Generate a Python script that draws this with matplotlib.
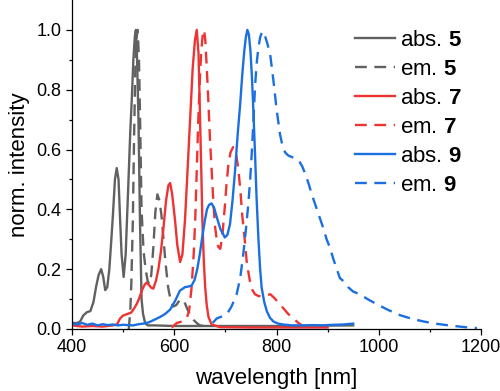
import matplotlib
matplotlib.use("Agg")
import matplotlib.pyplot as plt

plt.rcParams['font.family'] = ['Liberation Sans', 'DejaVu Sans']
plt.rcParams['mathtext.fontset'] = 'custom'
plt.rcParams['mathtext.rm'] = 'Liberation Sans'
plt.rcParams['mathtext.bf'] = 'Liberation Sans:bold'

# ---- data ----
abs5_x = [400, 410, 416, 422, 429, 436, 442, 447, 452, 457, 461, 465, 469, 473, 477, 480, 484, 487.5, 491, 494, 497, 501, 505, 510, 514, 517, 520, 523, 525, 527, 530, 533, 536, 539, 543, 548, 560, 600, 700, 800, 950]
abs5_y = [0.02, 0.02, 0.025, 0.045, 0.056, 0.06, 0.09, 0.14, 0.18, 0.2, 0.175, 0.13, 0.14, 0.2, 0.3, 0.38, 0.5, 0.538, 0.5, 0.37, 0.25, 0.174, 0.25, 0.475, 0.66, 0.77, 0.9, 0.98, 1.0, 0.92, 0.7, 0.36, 0.1, 0.05, 0.02, 0.012, 0.012, 0.01, 0.01, 0.01, 0.012]

em5_x = [511, 514, 516, 519, 521.5, 524, 526, 528.5, 531, 533, 536, 540, 544, 548, 551, 555, 559, 563, 567, 571, 575, 579, 583, 588, 593, 598, 604, 610, 615, 620, 626, 632, 638, 644, 650, 660]
em5_y = [0.0, 0.06, 0.15, 0.36, 0.65, 0.88, 0.97, 1.0, 0.9, 0.72, 0.4, 0.26, 0.2, 0.16, 0.15, 0.18, 0.27, 0.39, 0.45, 0.43, 0.38, 0.3, 0.22, 0.14, 0.095, 0.075, 0.08, 0.095, 0.1, 0.09, 0.065, 0.045, 0.03, 0.02, 0.012, 0.01]

abs7_x = [400, 420, 440, 460, 480, 488, 494, 500, 508, 516, 522, 527, 532, 537, 542, 546, 550, 555, 559, 564, 569, 574, 579, 584, 588.5, 592, 596, 601.5, 606, 611.5, 616, 621, 626, 631, 636, 640.5, 644, 647.5, 650.5, 653, 655, 658, 660.5, 663.5, 667, 673, 690, 750, 800, 850, 900]
abs7_y = [0.012, 0.008, 0.01, 0.008, 0.012, 0.015, 0.035, 0.045, 0.05, 0.055, 0.07, 0.085, 0.105, 0.13, 0.148, 0.155, 0.148, 0.138, 0.135, 0.16, 0.2, 0.26, 0.34, 0.43, 0.48, 0.488, 0.45, 0.364, 0.28, 0.224, 0.25, 0.364, 0.53, 0.70, 0.87, 0.966, 1.0, 0.92, 0.7, 0.52, 0.364, 0.22, 0.14, 0.08, 0.04, 0.015, 0.006, 0.005, 0.005, 0.005, 0.005]

em7_x = [595, 605, 615, 624, 629, 634, 638, 641, 644, 647, 650, 652.5, 655.5, 658.5, 661, 664, 667, 670, 673.5, 677, 680, 683, 686, 690, 694, 699, 702, 706, 710, 715, 720, 725, 729, 733, 738, 742, 748, 753, 758, 765, 772, 780, 788, 795, 803, 813, 823, 833, 843, 850]
em7_y = [0.005, 0.02, 0.025, 0.035, 0.06, 0.14, 0.25, 0.364, 0.53, 0.70, 0.83, 0.92, 0.98, 1.0, 0.96, 0.86, 0.75, 0.63, 0.52, 0.41, 0.34, 0.30, 0.275, 0.268, 0.31, 0.41, 0.48, 0.552, 0.59, 0.608, 0.595, 0.54, 0.47, 0.38, 0.296, 0.22, 0.16, 0.13, 0.116, 0.11, 0.11, 0.113, 0.116, 0.105, 0.09, 0.07, 0.05, 0.035, 0.02, 0.012]

abs9_x = [400, 410, 420, 430, 440, 450, 460, 470, 480, 490, 500, 510, 520, 530, 540, 550, 560, 572, 582, 592, 602, 611, 621, 628, 634, 640, 645, 650, 655, 660, 664, 668, 673, 678, 683, 690, 699, 704, 709, 714, 719, 724, 729, 733, 737, 740, 743, 746, 749, 752, 755, 758, 761, 764.5, 768, 771, 776, 781, 787, 794, 803, 813, 830, 850, 870, 890, 910, 930, 950]
abs9_y = [0.02, 0.015, 0.02, 0.014, 0.018, 0.012, 0.016, 0.013, 0.015, 0.012, 0.014, 0.013, 0.012, 0.016, 0.018, 0.022, 0.03, 0.04, 0.05, 0.065, 0.095, 0.128, 0.14, 0.142, 0.145, 0.165, 0.2, 0.25, 0.31, 0.364, 0.4, 0.415, 0.42, 0.405, 0.375, 0.335, 0.306, 0.315, 0.35, 0.43, 0.53, 0.65, 0.753, 0.85, 0.93, 0.975, 1.0, 0.985, 0.93, 0.84, 0.72, 0.585, 0.44, 0.306, 0.2, 0.138, 0.09, 0.06, 0.038, 0.025, 0.018, 0.015, 0.012, 0.012, 0.013, 0.012, 0.014, 0.015, 0.018]

em9_x = [675, 683, 693, 703, 712, 722, 729, 735, 740, 745, 748.5, 751.5, 755, 758, 761, 764.5, 768, 771, 774, 777.5, 782, 787.5, 794, 800.5, 807, 812, 817, 823, 830, 837, 843, 850, 856, 863, 869, 877, 885, 892, 898, 905, 911, 918, 924, 931, 940, 950, 963, 978, 996, 1018, 1042, 1065, 1088, 1110, 1133, 1158, 1182, 1192]
em9_y = [0.02, 0.035, 0.042, 0.05, 0.075, 0.116, 0.17, 0.25, 0.33, 0.42, 0.5, 0.585, 0.7, 0.81, 0.885, 0.94, 0.975, 0.99, 0.995, 0.98, 0.955, 0.92, 0.83, 0.73, 0.65, 0.61, 0.59, 0.58, 0.575, 0.57, 0.565, 0.545, 0.52, 0.485, 0.45, 0.41, 0.37, 0.335, 0.30, 0.27, 0.235, 0.2, 0.17, 0.16, 0.14, 0.125, 0.116, 0.1, 0.083, 0.064, 0.046, 0.034, 0.025, 0.018, 0.013, 0.008, 0.004, 0.003]

labels = [r'abs. $\mathbf{5}$', r'em. $\mathbf{5}$', r'abs. $\mathbf{7}$',
          r'em. $\mathbf{7}$', r'abs. $\mathbf{9}$', r'em. $\mathbf{9}$']
x_ticks = [400, 600, 800, 1000, 1200]
y_ticks = [0.0, 0.2, 0.4, 0.6, 0.8, 1.0]

GRAY = '#616161'
RED = '#ee3333'
BLUE = '#1b6fe0'

fig = plt.figure(figsize=(5.0, 3.91), dpi=100)
ax = fig.add_axes([0.144, 0.1586, 0.818, 0.8414])

series = [(abs5_x, abs5_y, GRAY, '-'), (em5_x, em5_y, GRAY, '--'),
          (abs7_x, abs7_y, RED, '-'), (em7_x, em7_y, RED, '--'),
          (abs9_x, abs9_y, BLUE, '-'), (em9_x, em9_y, BLUE, '--')]
for (xs, ys, c, ls), lab in zip(series, labels):
    line, = ax.plot(xs, ys, color=c, lw=1.7, label=lab)
    if ls == '--':
        line.set_dashes((5.0, 3.2))

ax.set_xlim(400, 1200)
ax.set_ylim(0, 1.1)
ax.set_xticks(x_ticks)
ax.set_yticks(y_ticks)
ax.set_xticks([500, 700, 900, 1100], minor=True)
ax.set_yticks([0.1, 0.3, 0.5, 0.7, 0.9], minor=True)
ax.set_yticklabels([f'{v:.1f}' for v in y_ticks])
ax.tick_params(axis='both', which='major', direction='out', length=4, width=0.9, labelsize=13)
ax.tick_params(axis='both', which='minor', direction='out', length=2.5, width=0.9)
for s in ['top', 'right']:
    ax.spines[s].set_visible(False)
for s in ['left', 'bottom']:
    ax.spines[s].set_linewidth(0.9)

ax.set_xlabel('wavelength [nm]', fontsize=16, labelpad=8)
ax.set_ylabel('norm. intensity', fontsize=16, labelpad=5)

leg = ax.legend(loc='upper left', bbox_to_anchor=(0.692, 0.91),
                frameon=False, fontsize=16, handlelength=1.8, handletextpad=0.22,
                labelspacing=0.36, borderaxespad=0.0, borderpad=0.0)

fig.savefig('out.png', dpi=100)
